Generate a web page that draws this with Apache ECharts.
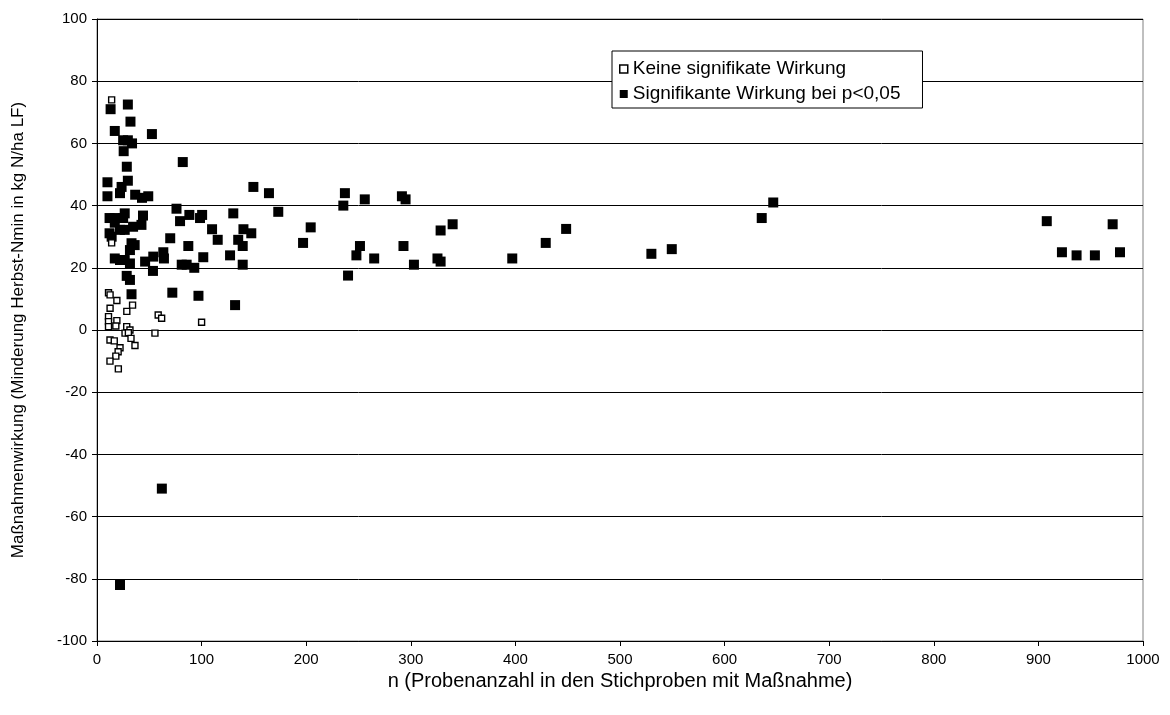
<!DOCTYPE html>
<html>
<head>
<meta charset="utf-8">
<title>Maßnahmenwirkung</title>
<script src="https://cdn.jsdelivr.net/npm/echarts@6/dist/echarts.min.js"></script>
<style>
  html, body { margin: 0; padding: 0; background: #fff; }
  #chart { width: 1170px; height: 715px; }
</style>
</head>
<body>
<div id="chart"></div>
<script>
// n (sample count) and effect (kg N/ha LF) for measures without significant effect
const nonSignificant = [
  [14, 74], [14, 28], [11, 12], [12.5, 11.3], [19, 9.5], [12.5, 7], [34, 8], [28.5, 6],
  [11, 4.3], [11, 2.7], [11, 1.1], [19, 3], [18, 1.3], [58.5, 4.8], [61.8, 3.8],
  [28.4, 1.1], [31.5, 0], [26.8, -1], [30, -0.9], [55.4, -1], [32.5, -2.7],
  [12.4, -3.2], [16.5, -3.5], [36.3, -5], [22, -5.7], [20.2, -7], [18, -8.4],
  [12.4, -10], [20.4, -12.5], [100, 2.5]
];

// n and effect for measures with a significant effect (p < 0.05)
const significant = [
  [10, 47.5], [10, 43], [13, 71], [17, 64], [29.5, 72.5], [32, 67], [25, 61], [29.5, 61],
  [33.5, 60], [25.5, 57.5], [28.5, 52.5], [29.5, 48], [23.5, 46], [22, 44], [36.5, 43.5],
  [43, 42.5], [49, 43], [52.5, 63], [82, 54],
  [12, 36], [17, 36], [26.5, 37.5], [25, 36], [17, 34.5], [44, 36.8], [42.5, 33.8],
  [34.5, 33.2], [26.5, 32.2], [22, 32.2], [12, 31.1], [14, 30], [33, 27.9], [36, 27.3],
  [31.5, 25.7], [17, 23], [22, 22.5], [26.5, 22.5], [31.5, 21.4], [46, 22], [53.8, 23.6],
  [63.4, 25], [64, 23], [53.5, 19], [28.4, 17.4], [31.5, 16.1], [33, 11.5],
  [76, 39], [79.4, 35], [88.3, 37], [98.5, 36], [100.5, 37], [110, 32.4], [115.4, 29],
  [70, 29.5], [87.3, 27], [101.6, 23.4], [81, 21], [85.7, 21], [93, 20], [72, 12],
  [97, 11], [132, 8],
  [130.3, 37.5], [140, 32.4], [147.5, 31.1], [135, 29], [139.3, 27], [127.2, 24], [139.3, 21],
  [149.5, 46], [164.4, 44], [173.3, 38], [197, 28], [204.3, 33], [235.5, 40], [237, 44],
  [240, 17.5], [248, 24], [251.4, 27], [256, 42], [265, 23], [291.5, 43], [295, 42],
  [293, 27], [303, 21], [325.5, 23], [328.5, 22], [328.5, 32], [340, 34], [397, 23],
  [429, 28], [448.5, 32.5], [530, 24.5], [549.5, 26], [635.5, 36], [646.5, 41],
  [908, 35], [922.5, 25], [936.5, 24], [954, 24], [971, 34], [978, 25],
  [62, -51], [22, -82]
];

const seriesNames = ['Keine signifikate Wirkung', 'Signifikante Wirkung bei p<0,05'];
const xAxisTitle = 'n (Probenanzahl in den Stichproben mit Maßnahme)';
const yAxisTitle = 'Maßnahmenwirkung (Minderung Herbst-Nmin in kg N/ha LF)';

const FONT = '"Liberation Sans", Arial, sans-serif';

const chart = echarts.init(document.getElementById('chart'), null, { renderer: 'canvas' });

chart.setOption({
  animation: false,
  backgroundColor: '#ffffff',
  textStyle: { fontFamily: FONT, color: '#000' },
  grid: {
    left: 97, right: 27, top: 19, bottom: 74,
    show: true, borderColor: '#808080', borderWidth: 1, backgroundColor: 'transparent'
  },
  legend: {
    orient: 'vertical',
    left: 612, top: 51,
    backgroundColor: '#fff',
    borderColor: '#000', borderWidth: 1,
    padding: [8, 22, 4, 7],
    itemWidth: 8, itemHeight: 8,
    itemGap: 5,
    textStyle: { fontFamily: FONT, fontSize: 19, color: '#000', lineHeight: 20 },
    data: [
      { name: seriesNames[0], icon: 'rect', itemStyle: { color: '#fff', borderColor: '#000', borderWidth: 1.5 } },
      { name: seriesNames[1], icon: 'rect', itemStyle: { color: '#000' } }
    ]
  },
  xAxis: {
    type: 'value',
    min: 0, max: 1000, interval: 100,
    name: xAxisTitle,
    nameLocation: 'middle',
    nameGap: 23,
    nameTextStyle: { fontFamily: FONT, fontSize: 20, color: '#000' },
    axisLine: { onZero: false, lineStyle: { color: '#000', width: 1 } },
    axisTick: { show: true, length: 5, lineStyle: { color: '#000' } },
    axisLabel: { fontFamily: FONT, fontSize: 15, color: '#000', margin: 11, formatter: v => String(v) },
    splitLine: { show: false }
  },
  yAxis: {
    type: 'value',
    min: -100, max: 100, interval: 20,
    name: yAxisTitle,
    nameLocation: 'middle',
    nameGap: 70,
    nameTextStyle: { fontFamily: FONT, fontSize: 17, color: '#000' },
    axisLine: { show: true, lineStyle: { color: '#000', width: 1 } },
    axisTick: { show: true, length: 5, lineStyle: { color: '#000' } },
    axisLabel: { fontFamily: FONT, fontSize: 15, color: '#000', margin: 10, formatter: v => String(v) },
    splitLine: { show: true, lineStyle: { color: '#000', width: 1 } }
  },
  series: [
    {
      name: seriesNames[0],
      type: 'scatter',
      symbol: 'rect',
      symbolSize: 6,
      itemStyle: { color: '#fff', borderColor: '#000', borderWidth: 1.4, opacity: 1 },
      z: 3,
      data: nonSignificant
    },
    {
      name: seriesNames[1],
      type: 'scatter',
      symbol: 'rect',
      symbolSize: 10,
      itemStyle: { color: '#000', opacity: 1 },
      z: 2,
      data: significant
    }
  ]
});
</script>
</body>
</html>
